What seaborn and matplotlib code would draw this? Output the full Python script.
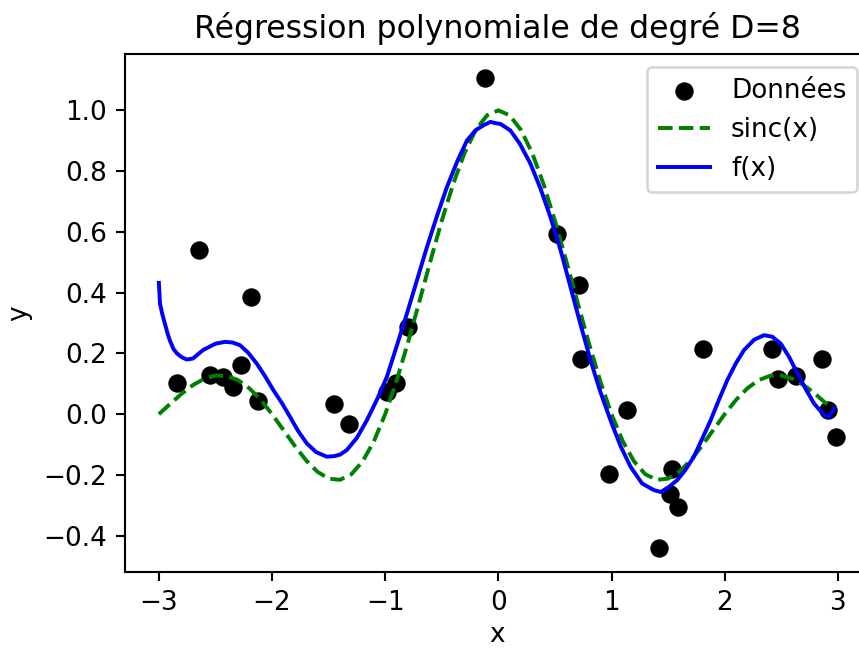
import numpy as np
import pandas as pd
import seaborn as sns
import matplotlib
matplotlib.use("Agg")
import matplotlib.pyplot as plt

# Données (points)
data_x = [-2.844, -2.645, -2.549, -2.436, -2.342, -2.274, -2.188, -2.127,
          -1.454, -1.321, -0.980, -0.905, -0.799, -0.121, 0.516, 0.711,
          0.726, 0.979, 1.139, 1.419, 1.513, 1.531, 1.590, 1.810, 2.419,
          2.473, 2.626, 2.858, 2.917, 2.985]
data_y = [0.104, 0.542, 0.129, 0.121, 0.088, 0.161, 0.386, 0.044,
          0.033, -0.033, 0.073, 0.101, 0.287, 1.108, 0.594, 0.424,
          0.183, -0.196, 0.015, -0.442, -0.263, -0.179, -0.307, 0.216, 0.213,
          0.117, 0.125, 0.183, 0.015, -0.075]

sinc_x = [-3.0, -2.9, -2.8, -2.7, -2.6, -2.5, -2.4, -2.3, -2.2, -2.1,
          -2.0, -1.9, -1.8, -1.7, -1.6, -1.5, -1.4, -1.3, -1.2, -1.1,
          -1.0, -0.9, -0.8, -0.7, -0.6, -0.5, -0.4, -0.3, -0.2, -0.1,
          0.0, 0.1, 0.2, 0.3, 0.4, 0.5, 0.6, 0.7, 0.8, 0.9,
          1.0, 1.1, 1.2, 1.3, 1.4, 1.5, 1.6, 1.7, 1.8, 1.9,
          2.0, 2.1, 2.2, 2.3, 2.4, 2.5, 2.6, 2.7, 2.8, 2.9, 2.97]
sinc_y = [0.0, 0.0339, 0.0668, 0.0954, 0.1164, 0.1273, 0.1261, 0.1120, 0.0850, 0.0468,
          0.0, -0.0518, -0.1039, -0.1515, -0.1892, -0.2122, -0.2162, -0.1981, -0.1559, -0.0894,
          0.0, 0.1093, 0.2339, 0.3679, 0.5046, 0.6366, 0.7568, 0.8584, 0.9355, 0.9836,
          1.0, 0.9836, 0.9355, 0.8584, 0.7568, 0.6366, 0.5046, 0.3679, 0.2339, 0.1093,
          0.0, -0.0894, -0.1559, -0.1981, -0.2162, -0.2122, -0.1892, -0.1515, -0.1039, -0.0518,
          0.0, 0.0468, 0.0850, 0.1120, 0.1261, 0.1273, 0.1164, 0.0954, 0.0668, 0.0339, 0.0101]

f_x = [-3.00, -2.99, -2.97, -2.947, -2.92, -2.90, -2.87, -2.84, -2.80, -2.755,
       -2.70, -2.61, -2.50, -2.416,
       -2.35, -2.283, -2.21, -2.136, -2.06, -1.988, -1.91, -1.841, -1.77, -1.693,
       -1.61, -1.516, -1.45, -1.398, -1.339, -1.25, -1.162, -1.07, -0.985, -0.90,
       -0.808, -0.72, -0.631, -0.54, -0.454, -0.36, -0.277, -0.20, -0.130, -0.071,
       -0.027, 0.02, 0.106, 0.19, 0.283, 0.37, 0.460, 0.55, 0.637, 0.725,
       0.814, 0.90, 0.991, 1.08, 1.168, 1.27, 1.375, 1.434, 1.493, 1.581,
       1.65, 1.728, 1.80, 1.876, 1.95, 2.023, 2.10, 2.171, 2.26, 2.348,
       2.42, 2.496, 2.57, 2.643, 2.72, 2.790, 2.879, 2.923, 2.968]
f_y = [0.432, 0.364, 0.330, 0.298, 0.262, 0.240, 0.214, 0.200, 0.188, 0.180,
       0.183, 0.211, 0.232, 0.238,
       0.236, 0.227, 0.202, 0.167, 0.124, 0.079, 0.035, -0.009, -0.055, -0.096,
       -0.125, -0.140, -0.138, -0.133, -0.118, -0.078, -0.020, 0.050, 0.123, 0.222,
       0.331, 0.440, 0.550, 0.655, 0.748, 0.835, 0.901, 0.935, 0.951, 0.962,
       0.958, 0.955, 0.934, 0.890, 0.825, 0.745, 0.649, 0.540, 0.419, 0.297,
       0.178, 0.075, -0.020, -0.105, -0.173, -0.228, -0.250, -0.256, -0.244, -0.217,
       -0.185, -0.140, -0.082, -0.020, 0.048, 0.112, 0.168, 0.211, 0.245, 0.260,
       0.255, 0.232, 0.188, 0.134, 0.080, 0.035, -0.003, -0.009, 0.019]

title = "Régression polynomiale de degré D=8"

W, H, DPI = 859, 648, 189
fig = plt.figure(figsize=(W / DPI, H / DPI), dpi=DPI)
ax = fig.add_axes([125 / W, 1 - 572 / H, (870 - 125) / W, (572 - 54) / H])

sns.scatterplot(x=data_x, y=data_y, ax=ax, color="black", s=36,
                edgecolor="black", linewidth=1, label="Données")
sns.lineplot(x=sinc_x, y=sinc_y, ax=ax, color="green", linestyle="--",
             linewidth=1.5, label="sinc(x)", estimator=None, sort=False)
sns.lineplot(x=f_x, y=f_y, ax=ax, color="blue", linewidth=1.5,
             label="f(x)", estimator=None, sort=False)

ax.set_title(title, fontsize=12)
ax.set_xlabel("x", labelpad=2)
ax.set_ylabel("y")
ax.set_xticks([-3, -2, -1, 0, 1, 2, 3])
ax.legend(loc="upper right")

fig.savefig("out.png", dpi=DPI)
